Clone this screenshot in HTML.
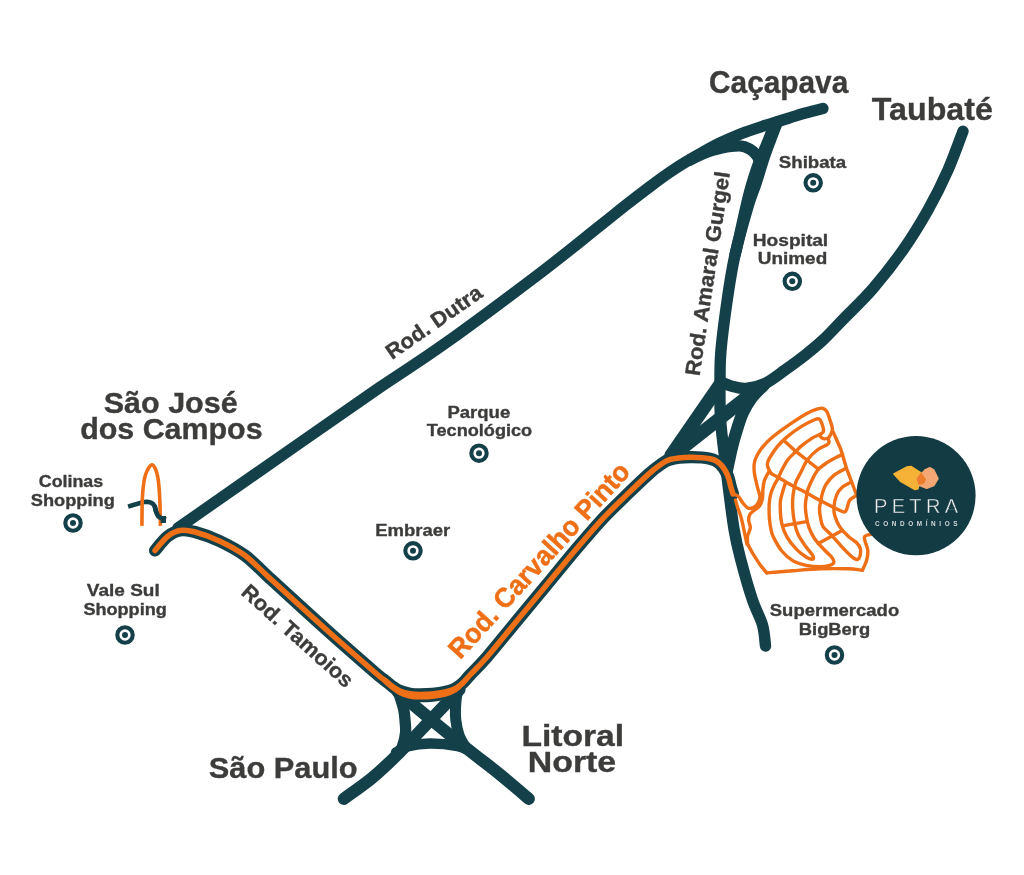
<!DOCTYPE html>
<html lang="pt-BR">
<head>
<meta charset="utf-8">
<title>Mapa de localização - Petra Condomínios</title>
<style>
  html, body { margin: 0; padding: 0; background: #ffffff; }
  body { width: 1024px; height: 875px; overflow: hidden; }
  svg { display: block; will-change: transform; }
  text { font-family: "Liberation Sans", sans-serif; font-weight: bold; fill: #3c3c3b; }
  .city, .poi, .rl { stroke: #3c3c3b; stroke-width: 0.35px; }
  .cp { stroke: #ee6f16; stroke-width: 0.5px; }
  .city { font-size: 29.5px; }
  .poi { font-size: 17.2px; }
  .rl { font-size: 21.3px; }
  .cp { font-size: 27.5px; fill: #ee6f16; }
  .rd { fill: none; stroke: #14404a; stroke-width: 11.4; stroke-linecap: round; stroke-linejoin: round; }
  .or { fill: none; stroke: #ee6f16; stroke-width: 5.5; stroke-linecap: round; stroke-linejoin: round; }
  .th { fill: none; stroke: #ee6f16; stroke-width: 3.4; stroke-linecap: round; stroke-linejoin: round; }
  .mk { fill: #ffffff; stroke: #14404a; stroke-width: 4.1; }
  .dot { fill: #14404a; }
</style>
</head>
<body>
<svg width="1024" height="875" viewBox="0 0 1024 875">
  <rect x="0" y="0" width="1024" height="875" fill="#ffffff"/>

  <g id="roads">
    <path class="rd" d="M178.0 528.0 C198.3 513.8 266.3 466.3 300.0 442.9 C333.7 419.4 356.0 403.8 380.0 387.3 C404.0 370.9 417.3 363.2 444.0 344.2 C470.7 325.2 514.0 292.9 540.0 273.2 C566.0 253.5 585.8 237.0 600.0 225.8 C614.2 214.6 616.7 212.3 625.0 205.8 C633.3 199.3 641.7 192.8 650.0 186.6 C658.3 180.4 666.7 174.2 675.0 168.8 C683.3 163.3 692.5 158.0 700.0 153.8 C707.5 149.5 713.2 146.3 720.0 143.0 C726.8 139.7 733.3 136.7 741.0 133.7 C748.7 130.7 757.7 127.9 766.0 125.2 C774.3 122.5 784.8 119.3 791.0 117.4 C797.2 115.5 798.2 115.1 803.5 113.6 C808.8 112.1 819.7 109.3 822.9 108.5"/>
    <path class="rd" d="M777.5 122.0 C776.3 125.0 772.8 133.9 770.5 140.0 C768.2 146.1 766.2 151.2 763.8 158.5 C761.4 165.8 758.5 175.8 756.0 183.5 C753.5 191.2 752.0 193.1 748.5 205.0 C745.0 216.9 738.5 239.5 735.0 255.0 C731.5 270.5 729.8 282.2 727.5 298.0 C725.2 313.8 722.2 336.7 721.0 350.0 C719.8 363.3 720.1 366.3 720.0 378.0 C719.9 389.7 719.6 405.0 720.6 420.0 C721.6 435.0 723.8 449.8 726.0 468.0 C728.2 486.2 731.4 513.2 734.0 529.0 C736.6 544.8 738.4 550.7 741.5 562.5 C744.6 574.3 749.0 589.6 752.5 600.0 C756.0 610.4 760.3 617.3 762.5 625.0 C764.7 632.7 765.0 642.5 765.5 646.0"/>
    <path class="rd" d="M690.0 160.0 C692.5 158.8 699.7 155.0 705.0 153.0 C710.3 151.0 716.2 149.2 722.0 148.0 C727.8 146.8 735.1 145.8 739.8 145.9 C744.4 146.1 746.9 147.4 749.6 148.9 C752.4 150.4 754.6 152.7 756.2 154.8 C757.9 156.8 759.0 160.0 759.5 161.0"/>
    <path class="rd" d="M773.5 125.0 C773.1 126.2 772.8 128.3 771.4 132.2 C770.0 136.2 767.0 143.7 765.0 148.5 C763.0 153.3 761.7 155.2 759.5 161.0 C757.3 166.8 754.2 176.2 752.0 183.5 C749.8 190.8 748.6 195.9 746.4 205.0 C744.2 214.1 740.9 229.7 739.0 238.0 C737.1 246.3 735.7 252.2 735.0 255.0"/>
    <path class="rd" d="M963.0 131.2 C960.5 137.7 953.8 156.9 948.0 170.0 C942.2 183.1 935.5 196.7 928.0 210.0 C920.5 223.3 912.2 236.9 903.0 250.0 C893.8 263.1 883.0 276.9 873.0 288.5 C863.0 300.1 851.3 310.9 843.0 319.5 C834.7 328.1 829.5 333.9 823.0 340.0 C816.5 346.1 810.3 351.0 804.0 356.0 C797.7 361.0 791.5 365.4 785.0 370.0 C778.5 374.6 771.5 380.4 765.0 383.5 C758.5 386.6 751.7 388.1 746.0 388.5 C740.3 388.9 735.2 387.1 731.0 386.0 C726.8 384.9 722.7 382.7 721.0 382.0"/>
    <path class="rd" style="stroke-width:11.3;stroke-linecap:butt" d="M397.0 688.5 C397.5 689.9 398.9 693.3 400.0 696.9 C401.1 700.5 403.0 706.1 403.8 710.0 C404.6 713.9 404.7 716.2 405.0 720.0 C405.3 723.8 406.0 728.1 405.6 732.5 C405.2 736.9 403.8 742.5 402.5 746.2 C401.2 750.0 398.8 753.5 398.0 755.0"/>
    <path class="rd" style="stroke-width:11;stroke-linecap:butt" d="M459.5 686.5 C459.1 687.7 457.7 690.2 457.0 693.8 C456.3 697.3 455.7 703.6 455.5 708.0 C455.3 712.4 455.2 715.5 455.8 720.0 C456.3 724.5 457.4 730.5 459.0 735.0 C460.6 739.5 463.7 744.3 465.5 747.0 C467.3 749.7 469.2 750.3 470.0 751.0"/>
    <path class="rd" style="stroke-width:13.5" d="M720.0 384.7 L671.0 455.7"/>
    <path class="rd" style="stroke-width:13.5" d="M754.7 391.0 L679.7 450.0"/>
    <path class="rd" style="stroke-width:12.3" d="M764.0 385.0 C761.9 387.2 755.0 393.4 751.5 398.0 C748.0 402.6 745.5 407.2 743.0 412.5 C740.5 417.8 738.7 423.9 736.8 430.0 C734.9 436.1 733.1 442.3 731.5 449.0 C729.9 455.7 727.8 466.5 727.0 470.0"/>
    <path class="rd" style="stroke-width:12.2" d="M155.0 550.5 C157.1 548.2 163.3 539.8 167.5 536.5 C171.7 533.2 175.4 531.2 180.0 530.5 C184.6 529.8 188.3 530.2 195.0 532.0 C201.7 533.8 211.7 537.3 220.0 541.2 C228.3 545.2 236.7 549.3 245.0 555.5 C253.3 561.7 256.7 566.2 270.0 578.4 C283.3 590.6 307.5 612.8 325.0 628.5 C342.5 644.2 365.0 663.8 375.0 672.5 C385.0 681.2 382.1 678.2 385.0 680.5 C387.9 682.8 390.0 684.8 392.5 686.5 C395.0 688.2 397.1 689.8 400.0 691.0 C402.9 692.2 406.7 693.2 410.0 693.8 C413.3 694.4 416.2 694.4 420.0 694.4 C423.8 694.4 428.3 694.3 432.5 693.9 C436.7 693.5 441.2 692.9 445.0 692.0 C448.8 691.1 452.1 690.2 455.0 688.7 C457.9 687.2 460.0 685.5 462.5 683.2 C465.0 680.9 465.9 679.4 470.0 675.0 C474.1 670.6 479.3 665.9 487.0 657.0 C494.7 648.1 506.5 633.3 516.3 621.5 C526.1 609.7 535.9 597.8 545.7 586.0 C555.5 574.2 565.7 561.5 575.0 550.5 C584.3 539.5 593.4 528.8 601.7 519.8 C610.1 510.8 617.3 504.0 625.1 496.4 C632.9 488.8 642.8 479.3 648.6 474.1 C654.4 468.9 656.4 467.4 660.0 465.0 C663.6 462.6 665.0 460.8 670.0 459.5 C675.0 458.2 683.3 457.3 690.0 457.2 C696.7 457.1 705.0 457.7 710.0 458.8 C715.0 459.8 717.1 461.0 720.0 463.8 C722.9 466.5 725.7 471.0 727.5 475.0 C729.3 479.0 730.1 484.3 731.0 487.5 C731.9 490.7 732.7 492.9 733.0 494.0"/>
    <path class="rd" style="stroke-width:12.2" d="M343.8 798.8 C348.5 795.3 362.6 785.8 372.0 778.0 C381.4 770.2 390.2 761.8 400.0 752.0 C409.8 742.2 421.1 729.9 431.0 719.5 C440.9 709.1 454.8 694.5 459.5 689.5"/>
    <path class="rd" style="stroke-width:12.2" d="M528.8 798.8 C524.0 794.7 509.8 782.5 500.0 774.5 C490.2 766.5 481.5 760.2 470.0 751.0 C458.5 741.8 443.1 729.4 431.0 719.5 C418.9 709.6 403.1 696.2 397.5 691.5"/>
    <path class="rd" style="stroke-width:10.5" d="M396.0 752.5 C397.9 751.5 401.8 747.9 407.5 746.4 C413.2 744.9 421.7 743.6 430.0 743.5 C438.3 743.4 450.8 744.8 457.5 746.0 C464.2 747.2 467.9 750.2 470.0 751.0"/>
    <path class="rd" style="stroke-width:11" d="M392.5 687.3 C393.8 688.2 397.1 691.0 400.0 692.5 C402.9 694.0 406.7 695.3 410.0 696.0 C413.3 696.7 416.2 696.8 420.0 696.8 C423.8 696.8 428.3 696.8 432.5 696.3 C436.7 695.8 441.2 695.0 445.0 694.0 C448.8 693.0 453.3 690.7 455.0 690.0"/>
  </g>
  <g id="route">
    <path class="or" d="M155.0 550.5 C157.1 548.2 163.3 539.8 167.5 536.5 C171.7 533.2 175.4 531.2 180.0 530.5 C184.6 529.8 188.3 530.2 195.0 532.0 C201.7 533.8 211.7 537.3 220.0 541.2 C228.3 545.2 236.7 549.3 245.0 555.5 C253.3 561.7 256.7 566.2 270.0 578.4 C283.3 590.6 307.5 612.8 325.0 628.5 C342.5 644.2 365.0 663.8 375.0 672.5 C385.0 681.2 382.1 678.2 385.0 680.5 C387.9 682.8 390.0 684.8 392.5 686.5 C395.0 688.2 397.1 689.8 400.0 691.0 C402.9 692.2 406.7 693.2 410.0 693.8 C413.3 694.4 416.2 694.4 420.0 694.4 C423.8 694.4 428.3 694.3 432.5 693.9 C436.7 693.5 441.2 692.9 445.0 692.0 C448.8 691.1 452.1 690.2 455.0 688.7 C457.9 687.2 460.0 685.5 462.5 683.2 C465.0 680.9 465.9 679.4 470.0 675.0 C474.1 670.6 479.3 665.9 487.0 657.0 C494.7 648.1 506.5 633.3 516.3 621.5 C526.1 609.7 535.9 597.8 545.7 586.0 C555.5 574.2 565.7 561.5 575.0 550.5 C584.3 539.5 593.4 528.8 601.7 519.8 C610.1 510.8 617.3 504.0 625.1 496.4 C632.9 488.8 642.8 479.3 648.6 474.1 C654.4 468.9 656.4 467.4 660.0 465.0 C663.6 462.6 665.0 460.8 670.0 459.5 C675.0 458.2 683.3 457.3 690.0 457.2 C696.7 457.1 705.0 457.7 710.0 458.8 C715.0 459.8 717.1 461.0 720.0 463.8 C722.9 466.5 725.7 471.0 727.5 475.0 C729.3 479.0 730.1 484.3 731.0 487.5 C731.9 490.7 732.7 492.9 733.0 494.0"/>
    <path class="or" d="M385.0 680.5 C386.2 681.6 390.0 685.3 392.5 687.3 C395.0 689.3 397.1 691.0 400.0 692.5 C402.9 694.0 406.7 695.3 410.0 696.0 C413.3 696.7 416.2 696.8 420.0 696.8 C423.8 696.8 428.3 696.8 432.5 696.3 C436.7 695.8 441.2 695.0 445.0 694.0 C448.8 693.0 452.1 691.8 455.0 690.0 C457.9 688.2 461.2 684.3 462.5 683.2"/>
  </g>
  <g id="plot">
    <path class="th" d="M733.0 494.0 C733.8 494.4 736.4 494.6 738.0 496.1 C739.6 497.6 741.3 501.0 742.9 503.0 C744.5 505.0 746.2 507.1 747.8 507.9 C749.4 508.7 751.0 508.6 752.6 507.9 C754.2 507.2 756.3 505.7 757.5 503.9 C758.7 502.1 760.0 499.9 760.0 497.1 C760.0 494.3 758.4 491.1 757.5 487.3 C756.6 483.6 755.2 478.3 754.6 474.6 C754.0 470.9 753.9 467.6 754.1 464.9 C754.3 462.2 754.5 461.1 755.6 458.6 C756.7 456.1 758.1 453.1 760.5 449.8 C762.9 446.6 765.8 443.0 770.2 439.1 C774.6 435.2 780.8 430.6 786.8 426.4 C792.8 422.2 801.2 416.6 806.4 413.7 C811.6 410.8 815.3 409.7 818.1 408.8 C820.9 407.9 821.5 407.8 823.0 408.3 C824.5 408.8 825.8 409.8 826.9 411.7 C828.0 413.6 828.9 416.7 829.8 419.5 C830.7 422.3 832.2 426.2 832.4 428.6 C832.6 431.0 831.6 432.2 831.0 433.8 C830.4 435.4 828.8 436.9 828.5 438.3 C828.2 439.7 829.2 441.1 829.0 442.2 C828.8 443.3 829.0 443.4 827.0 444.7 C825.0 446.0 820.5 447.5 817.3 450.0 C814.0 452.5 810.3 456.1 807.5 459.8 C804.7 463.6 802.7 468.8 800.7 472.5 C798.8 476.2 796.9 479.6 795.8 482.3 C794.7 485.1 794.5 486.2 794.0 489.0 C793.5 491.8 792.9 495.7 792.7 499.0 C792.5 502.3 792.4 504.7 792.7 508.8 C793.0 512.9 793.8 519.4 794.7 523.7 C795.6 528.0 796.5 531.0 798.2 534.6 C799.9 538.2 802.6 542.1 805.0 545.5 C807.4 548.9 810.9 552.7 812.3 554.8 C813.7 556.9 813.6 557.3 813.5 558.0 C813.4 558.7 813.0 559.3 811.8 559.2 C810.6 559.1 808.9 558.8 806.4 557.2 C803.9 555.6 800.0 552.9 796.8 549.6 C793.6 546.3 789.7 541.6 787.2 537.3 C784.7 533.0 782.9 529.3 781.8 523.7 C780.6 518.1 780.2 508.8 780.2 503.9 C780.2 499.0 781.1 497.7 782.0 494.2 C782.9 490.7 784.8 484.9 785.4 483.0"/>
    <path class="th" d="M833.2 432.0 L840.7 449.0 L846.6 468.6 L856.8 495.5"/>
    <path class="th" d="M771.2 473.4 C770.9 472.9 769.9 471.8 769.2 470.3 C768.6 468.8 767.3 466.4 767.3 464.5 C767.3 462.6 767.6 461.5 769.2 458.6 C770.9 455.7 774.2 450.5 777.1 446.9 C780.0 443.3 782.7 440.5 786.8 437.1 C790.9 433.7 796.8 429.3 801.5 426.4 C806.2 423.5 812.2 420.7 815.1 419.5 C818.0 418.3 818.0 418.5 819.1 419.0 C820.2 419.5 820.8 420.6 821.5 422.5 C822.2 424.4 823.6 428.6 823.6 430.5 C823.6 432.4 823.1 432.4 821.2 433.7 C819.3 435.0 815.5 436.1 812.2 438.1 C808.9 440.1 804.3 443.6 801.5 445.9 C798.7 448.2 797.9 449.5 795.6 451.8 C793.4 454.0 790.3 456.5 788.0 459.5 C785.7 462.5 783.7 466.6 782.0 469.8 C780.3 473.0 779.3 475.9 778.0 478.5 C776.7 481.1 775.3 482.8 774.1 485.4 C772.9 488.0 771.5 491.1 770.7 494.2 C769.9 497.3 769.5 499.8 769.2 503.9 C769.0 508.0 769.1 514.2 769.4 518.6 C769.7 523.0 770.5 527.2 771.2 530.3 C771.9 533.4 771.7 533.8 773.5 537.3 C775.3 540.8 778.5 547.1 781.8 551.0 C785.0 554.9 788.6 558.2 792.7 560.6 C796.8 563.0 801.9 564.4 806.4 565.4 C810.9 566.4 816.1 566.7 820.0 566.7 C823.9 566.7 827.3 566.1 829.6 565.4 C831.9 564.7 833.2 563.9 833.7 562.6 C834.2 561.4 833.7 559.8 832.3 557.9 C830.9 556.0 828.5 554.2 825.5 551.0 C822.5 547.8 817.3 542.6 814.6 538.7 C811.9 534.8 810.5 531.4 809.1 527.8 C807.7 524.1 807.0 520.6 806.4 516.8 C805.8 513.0 805.3 508.9 805.4 505.0 C805.5 501.1 806.5 496.3 807.0 493.5 C807.5 490.7 807.3 490.9 808.3 488.3 C809.3 485.7 811.5 480.8 813.2 477.6 C814.9 474.4 816.0 471.8 818.3 469.3 C820.6 466.8 824.0 464.7 827.0 462.7 C830.0 460.7 833.4 458.9 836.0 457.5 C838.6 456.1 841.5 454.8 842.6 454.3"/>
    <path class="th" d="M821.2 433.7 C821.0 434.1 819.7 435.5 820.2 436.4 C820.7 437.2 822.8 438.5 824.1 438.8 C825.5 439.1 827.6 438.4 828.3 438.3"/>
    <path class="th" d="M771.2 473.4 C774.0 475.0 782.0 479.8 788.0 483.2 C794.0 486.6 802.0 490.5 807.5 493.5 C813.0 496.5 815.5 498.0 821.2 501.0 C826.9 504.0 837.6 509.5 841.7 511.2 C845.8 513.0 844.6 512.1 845.6 511.2 C846.6 510.4 847.0 508.2 847.6 506.4 C848.2 504.6 848.4 502.1 849.5 500.5 C850.6 498.9 853.1 497.4 854.4 496.6 C855.6 495.8 856.6 495.8 857.0 495.6"/>
    <path class="th" d="M783.5 440.2 L796.8 452.2 L807.5 460.5 L818.3 469.1"/>
    <path class="th" d="M845.6 468.6 C843.6 469.7 837.1 472.8 833.9 475.4 C830.6 478.0 828.0 481.3 826.1 484.2 C824.2 487.1 823.4 490.3 822.5 493.0 C821.6 495.7 821.5 497.9 821.0 500.5 C820.5 503.1 819.5 505.7 819.5 508.8 C819.5 511.9 820.1 516.0 820.7 519.0 C821.3 522.0 821.5 524.3 823.2 526.9 C824.9 529.5 827.9 531.3 831.0 534.6 C834.1 537.9 838.5 543.2 841.9 546.9 C845.3 550.5 849.2 554.5 851.5 556.5 C853.8 558.5 854.5 558.8 855.6 559.2 C856.7 559.7 857.5 559.7 858.2 559.2 C858.9 558.7 859.6 557.8 860.0 556.0 C860.4 554.2 860.9 550.6 860.3 548.4 C859.7 546.1 858.4 544.5 856.4 542.5 C854.4 540.5 851.3 539.2 848.5 536.6 C845.7 534.0 842.1 530.3 839.8 526.9 C837.5 523.5 835.9 519.4 834.9 516.1 C833.9 512.8 833.6 510.5 833.9 506.9 C834.2 503.3 835.3 498.0 836.8 494.6 C838.3 491.2 840.4 488.9 842.7 486.8 C845.0 484.8 849.4 483.1 850.8 482.3"/>
    <path class="th" d="M783.5 525.7 L806.6 521.6"/>
    <path class="th" d="M818.3 543.6 L842.2 530.4"/>
    <path class="th" d="M769.3 471.0 C769.0 471.6 768.1 473.0 767.3 474.6 C766.5 476.2 765.1 478.1 764.4 480.5 C763.7 482.9 763.2 486.2 762.9 489.3 C762.6 492.4 763.0 496.2 762.4 499.0 C761.8 501.8 761.0 503.9 759.5 505.9 C758.0 507.9 755.2 509.3 753.6 510.8 C752.0 512.3 750.5 513.1 749.7 514.7 C748.9 516.3 748.6 518.3 748.7 520.5 C748.8 522.7 750.5 525.2 750.3 527.8 C750.1 530.4 748.0 533.3 747.6 536.0 C747.2 538.7 747.6 542.8 747.6 544.2"/>
    <path class="th" d="M747.6 544.2 L753.0 553.8 L759.9 564.7 L766.7 572.9"/>
    <path class="th" d="M766.7 572.9 C771.0 572.5 783.8 571.5 792.7 570.8 C801.6 570.1 810.9 569.1 820.0 568.8 C829.1 568.5 840.3 568.6 847.4 568.8 C854.5 569.0 859.9 570.0 862.4 570.2"/>
    <path class="th" d="M862.4 570.2 C863.1 568.6 865.6 563.8 866.5 560.6 C867.4 557.4 868.1 554.2 867.9 551.0 C867.7 547.8 865.7 543.8 865.1 541.4 C864.5 539.0 863.8 537.8 864.5 536.7 C865.2 535.6 867.8 535.1 869.2 534.6 C870.7 534.1 872.4 534.1 873.0 534.0"/>
    <path class="th" d="M735.5 500.0 C735.9 501.3 736.9 505.3 737.8 508.0 C738.7 510.7 739.8 512.7 740.7 516.0 C741.7 519.3 742.5 523.1 743.5 527.8 C744.5 532.5 746.3 541.5 746.9 544.2"/>
  </g>
  <g id="arch">
    <path d="M128.1 506.6 C129.5 506.2 133.6 504.9 136.3 504.1 C139.1 503.3 142.3 502.3 144.6 502.0 C146.9 501.7 148.7 501.8 150.3 502.4 C152.0 503.0 153.5 504.2 154.5 505.7 C155.5 507.2 155.4 509.7 156.1 511.5 C156.8 513.3 157.5 515.2 158.6 516.4 C159.7 517.6 161.5 518.4 162.7 518.9 C163.9 519.4 165.4 519.2 166.0 519.3" fill="none" stroke="#14404a" stroke-width="4.6" stroke-linecap="butt" stroke-linejoin="round"/>
    <path d="M141.9 525.9 C142.0 521.4 142.0 506.4 142.3 499.2 C142.6 492.0 143.2 486.8 143.8 482.7 C144.3 478.6 144.8 476.9 145.6 474.5 C146.4 472.1 147.4 469.8 148.5 468.2 C149.6 466.6 150.9 464.8 152.0 464.8 C153.1 464.8 154.2 466.6 155.1 468.2 C156.0 469.8 156.6 472.1 157.2 474.5 C157.8 476.9 158.2 478.6 158.6 482.7 C159.0 486.8 159.5 492.0 159.8 499.2 C160.1 506.4 160.3 521.4 160.4 525.9" fill="none" stroke="#ee6f16" stroke-width="3.6" stroke-linecap="butt" stroke-linejoin="round"/>
    <path d="M154.5 505.7 C154.8 506.7 155.4 509.7 156.1 511.5 C156.8 513.3 157.5 515.2 158.6 516.4 C159.7 517.6 161.5 518.4 162.7 518.9 C163.9 519.4 165.4 519.2 166.0 519.3" fill="none" stroke="#14404a" stroke-width="4.6" stroke-linecap="butt" stroke-linejoin="round"/>
    <rect x="160.6" y="516" width="5.4" height="7" fill="#14404a"/>
  </g>
  <g id="markers">
    <circle class="mk" cx="813.2" cy="182.8" r="7.7"/><circle class="dot" cx="813.2" cy="182.8" r="3"/>
    <circle class="mk" cx="792.3" cy="281.3" r="7.7"/><circle class="dot" cx="792.3" cy="281.3" r="3"/>
    <circle class="mk" cx="73.0" cy="523.0" r="7.7"/><circle class="dot" cx="73.0" cy="523.0" r="3"/>
    <circle class="mk" cx="125.0" cy="635.0" r="7.7"/><circle class="dot" cx="125.0" cy="635.0" r="3"/>
    <circle class="mk" cx="479.0" cy="453.2" r="7.7"/><circle class="dot" cx="479.0" cy="453.2" r="3"/>
    <circle class="mk" cx="413.0" cy="550.8" r="7.7"/><circle class="dot" cx="413.0" cy="550.8" r="3"/>
    <circle class="mk" cx="834.5" cy="655.0" r="7.7"/><circle class="dot" cx="834.5" cy="655.0" r="3"/>
  </g>
  <g id="logo">
    <circle cx="916" cy="495.6" r="59.6" fill="#133b43"/>
    <path d="M893.9 473.9 L907 466.9 L911 466.4 L921 473 L918 488.8 L915 489.5 L901 481.7 Z" fill="#f5b236" stroke="#f5b236" stroke-width="1.5" stroke-linejoin="round"/>
    <path d="M925 470 L929.8 467.7 L933.8 470 L938 478.6 L933.8 485.6 L926.7 488.3 L919.7 485.6 L917 478.6 Z" fill="#f3a873" stroke="#f3a873" stroke-width="1.5" stroke-linejoin="round"/>
    <path d="M921 473 L925.6 479.4 L923.6 483.3 L918.9 484.4 L917 478.6 Z" fill="#ee7d2b" stroke="#ee7d2b" stroke-width="1" stroke-linejoin="round"/>
    <text x="874" y="513.3" textLength="84" lengthAdjust="spacing" style="font-size:20px;font-weight:normal;fill:#ececec;stroke:#133b43;stroke-width:0.45">PETRA</text>
    <rect x="948.7" y="507.2" width="5.9" height="1.8" fill="#133b43"/>
    <text x="875" y="525.6" textLength="82.5" lengthAdjust="spacing" style="font-size:6.4px;font-weight:bold;fill:#d3d8d9">CONDOMÍNIOS</text>
  </g>
  <g id="labels" opacity="0.999">
    <text class="city" x="709.0" y="92.7" textLength="139.3" lengthAdjust="spacingAndGlyphs" style="font-size:31.5px">Caçapava</text>
    <text class="city" x="871.8" y="119.5" textLength="121.1" lengthAdjust="spacingAndGlyphs" style="font-size:31.5px">Taubaté</text>
    <text class="city" x="103.8" y="412.5" textLength="133.8" lengthAdjust="spacingAndGlyphs">São José</text>
    <text class="city" x="80.2" y="438.8" textLength="182.4" lengthAdjust="spacingAndGlyphs">dos Campos</text>
    <text class="city" x="208.8" y="777.5" textLength="148.8" lengthAdjust="spacingAndGlyphs">São Paulo</text>
    <text class="city" x="521.4" y="745.5" textLength="102.8" lengthAdjust="spacingAndGlyphs">Litoral</text>
    <text class="city" x="527.8" y="772.0" textLength="88.4" lengthAdjust="spacingAndGlyphs">Norte</text>
    <text class="poi" x="778.8" y="168.0" textLength="67.4" lengthAdjust="spacingAndGlyphs">Shibata</text>
    <text class="poi" x="752.8" y="246.0" textLength="75.4" lengthAdjust="spacingAndGlyphs">Hospital</text>
    <text class="poi" x="757.8" y="264.0" textLength="69.4" lengthAdjust="spacingAndGlyphs">Unimed</text>
    <text class="poi" x="38.8" y="487.0" textLength="64.4" lengthAdjust="spacingAndGlyphs">Colinas</text>
    <text class="poi" x="30.8" y="506.2" textLength="84.0" lengthAdjust="spacingAndGlyphs">Shopping</text>
    <text class="poi" x="86.8" y="596.2" textLength="72.9" lengthAdjust="spacingAndGlyphs">Vale Sul</text>
    <text class="poi" x="83.4" y="615.0" textLength="83.4" lengthAdjust="spacingAndGlyphs">Shopping</text>
    <text class="poi" x="447.4" y="418.0" textLength="62.8" lengthAdjust="spacingAndGlyphs">Parque</text>
    <text class="poi" x="426.8" y="436.2" textLength="105.4" lengthAdjust="spacingAndGlyphs">Tecnológico</text>
    <text class="poi" x="375.2" y="536.2" textLength="75.0" lengthAdjust="spacingAndGlyphs">Embraer</text>
    <text class="poi" x="769.8" y="616.0" textLength="129.4" lengthAdjust="spacingAndGlyphs">Supermercado</text>
    <text class="poi" x="798.8" y="635.0" textLength="71.4" lengthAdjust="spacingAndGlyphs">BigBerg</text>
    <text class="rl" transform="translate(392 360) rotate(-34.8)" textLength="112" lengthAdjust="spacingAndGlyphs">Rod. Dutra</text>
    <text class="rl" transform="translate(699.5 376.5) rotate(-81.5)" textLength="206" lengthAdjust="spacingAndGlyphs">Rod. Amaral Gurgel</text>
    <text class="rl" transform="translate(240 593.8) rotate(42)" textLength="142" lengthAdjust="spacingAndGlyphs">Rod. Tamoios</text>
    <text class="cp" transform="translate(460.3 660.3) rotate(-47.6)" textLength="254" lengthAdjust="spacingAndGlyphs">Rod. Carvalho Pinto</text>
  </g>
</svg>
</body>
</html>
